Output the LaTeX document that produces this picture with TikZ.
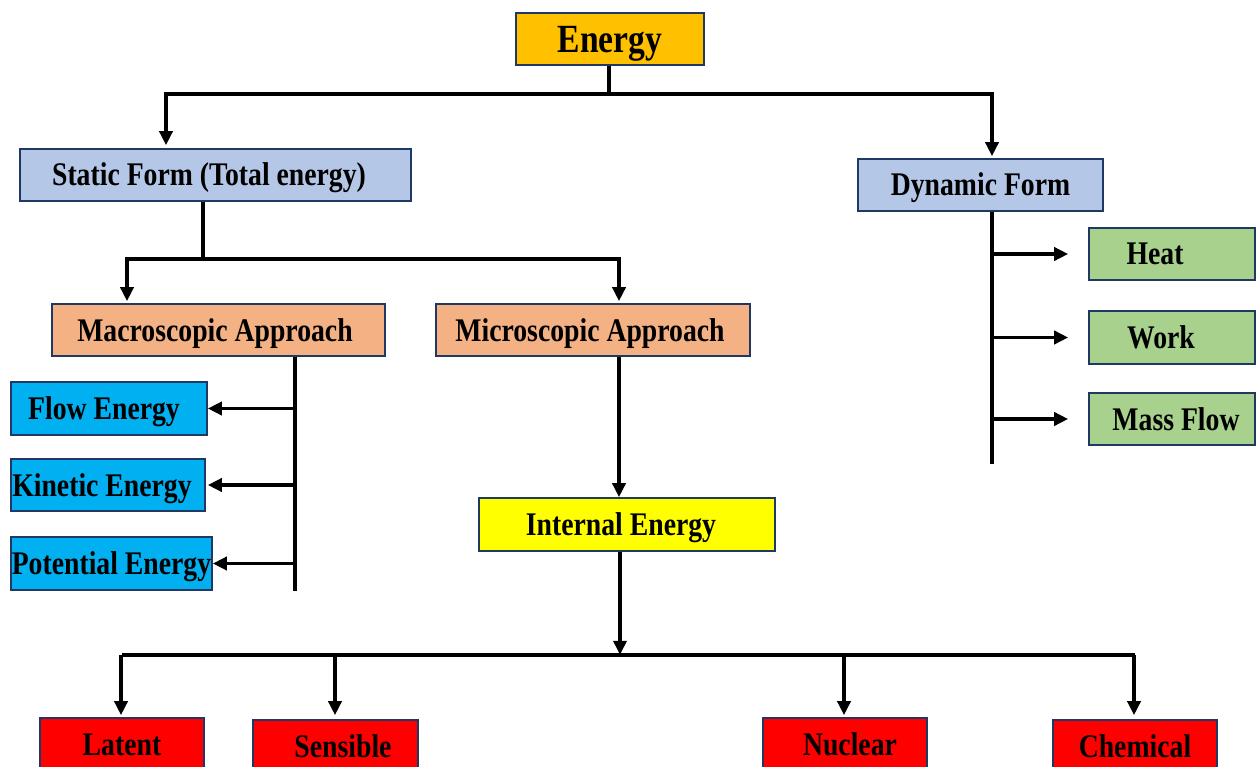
\documentclass[tikz,border=0pt]{standalone}
\usepackage{fontspec}
\newfontfamily\lbl[FakeStretch=0.84]{Liberation Serif}
\usetikzlibrary{arrows.meta}
\definecolor{edge}{HTML}{203864}
\definecolor{cGold}{HTML}{FFC000}
\definecolor{cBlueGrey}{HTML}{B4C7E7}
\definecolor{cPeach}{HTML}{F4B183}
\definecolor{cCyan}{HTML}{00B0F0}
\definecolor{cYellow}{HTML}{FFFF00}
\definecolor{cGreen}{HTML}{A9D18E}
\definecolor{cRed}{HTML}{FF0000}
\tikzset{
  box/.style={draw=edge, line width=1.6pt, inner sep=0pt, minimum height=52pt,
    text height=22pt, text depth=0pt,
    font=\lbl\bfseries\fontsize{33}{36}\selectfont},
  conn/.style={line width=3.8pt, line cap=butt},
  arr/.style={conn, -{Triangle[length=14pt,width=13pt]}},
}
\begin{document}
\begin{tikzpicture}[x=1pt,y=-1pt]
\clip (0,0) rectangle (1257,767);
\fill[white] (0,0) rectangle (1257,767);

% boxes
\node[box, fill=cGold, minimum width=188pt, text height=27pt,
      font=\lbl\bfseries\fontsize{40}{44}\selectfont] (energy) at (610,39) {Energy};
\node[box, fill=cBlueGrey, minimum width=391pt] (static) at (215.5,175) {Static Form (Total energy)\kern13pt};
\node[box, fill=cBlueGrey, minimum width=245pt] (dynamic) at (980.5,185) {Dynamic Form};
\node[box, fill=cPeach, minimum width=333pt] (macro) at (218.5,330) {Macroscopic Approach\kern7pt};
\node[box, fill=cPeach, minimum width=314pt] (micro) at (593,330) {Microscopic Approach\kern6pt};
\node[box, fill=cCyan, minimum width=196pt, minimum height=53pt] (flow) at (109,408.5) {Flow Energy\kern10pt};
\node[box, fill=cCyan, minimum width=194pt] (kinetic) at (108,485) {Kinetic Energy\kern12pt};
\node[box, fill=cCyan, minimum width=201pt, minimum height=53pt] (potential) at (111.5,563.5) {Potential Energy};
\node[box, fill=cYellow, minimum width=296pt, minimum height=53pt] (internal) at (627,524.5) {Internal Energy\kern12pt};
\node[box, fill=cGreen, minimum width=166pt] (heat) at (1172,254) {Heat\kern34pt};
\node[box, fill=cGreen, minimum width=166pt, minimum height=53pt] (work) at (1172,337.5) {Work\kern22pt};
\node[box, fill=cGreen, minimum width=166pt] (massflow) at (1172,419) {\kern8pt Mass Flow};
\node[box, fill=cRed, minimum width=164pt] (latent) at (122,744) {Latent};
\node[box, fill=cRed, minimum width=165pt] (sensible) at (335.5,746) {\kern15pt Sensible};
\node[box, fill=cRed, minimum width=164pt] (nuclear) at (845,744) {\kern10pt Nuclear};
\node[box, fill=cRed, minimum width=164pt] (chemical) at (1135,746) {Chemical};

% Energy -> static / dynamic
\draw[conn] ([xshift=-1pt]energy.south) -- ++(0,28) coordinate (eb);
\draw[arr, shorten >=3pt] (eb) -| ([xshift=-49.5pt]static.north);
\draw[arr, shorten >=2pt] (eb) -| ([xshift=11.5pt]dynamic.north);

% static -> macro / micro
\draw[conn] ([xshift=-12.5pt]static.south) -- ++(0,57) coordinate (sb);
\draw[arr, shorten >=2pt] (sb) -| ([xshift=-91.5pt]macro.north);
\draw[arr, shorten >=2pt] (sb) -| ([xshift=26pt]micro.north);

% macro -> flow / kinetic / potential
\draw[conn] ([xshift=76.5pt]macro.south) -- ++(0,234) coordinate (mb);
\draw[arr] (flow.east -| mb) -- (flow.east);
\draw[arr] (kinetic.east -| mb) -- ([xshift=2pt]kinetic.east);
\draw[arr] (potential.east -| mb) -- (potential.east);

% micro -> internal
\draw[arr] ([xshift=26pt]micro.south) -- ([xshift=26pt]micro.south |- internal.north);

% internal -> four forms
\draw[arr] ([xshift=-7pt]internal.south) -- ++(0,103) coordinate (ib);
\draw[conn] (latent.north |- ib) -- (chemical.north |- ib);
\draw[arr, shorten >=2pt] ([xshift=-1pt]latent.north |- ib) -- ([xshift=-1pt]latent.north);
\draw[arr, shorten >=4pt] ([xshift=-0.5pt]sensible.north |- ib) -- ([xshift=-0.5pt]sensible.north);
\draw[arr, shorten >=2pt] ([xshift=-1pt]nuclear.north |- ib) -- ([xshift=-1pt]nuclear.north);
\draw[arr, shorten >=4pt] ([xshift=-1pt]chemical.north |- ib) -- ([xshift=-1pt]chemical.north);

% dynamic -> heat / work / mass flow
\draw[conn] ([xshift=11.5pt]dynamic.south) -- ++(0,252) coordinate (db);
\draw[arr, shorten >=20pt] (heat.west -| db) -- (heat.west);
\draw[arr, shorten >=20pt] (work.west -| db) -- (work.west);
\draw[arr, shorten >=20pt] (massflow.west -| db) -- (massflow.west);
\end{tikzpicture}
\end{document}
